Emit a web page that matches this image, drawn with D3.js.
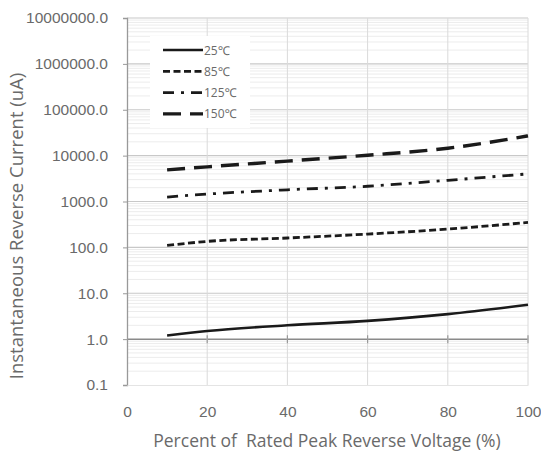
<!DOCTYPE html>
<html>
<head>
<meta charset="utf-8">
<script src="https://cdn.jsdelivr.net/npm/d3@7/dist/d3.min.js"></script>
<style>
  body { margin: 0; background: #fff; }
  svg { font-family: "Open Sans", "Noto Sans", sans-serif; }
</style>
</head>
<body>
<div id="chart"></div>
<script>
// data
const voltagePct = [10, 20, 40, 60, 80, 100];
const i25 = [1.2, 1.5, 2.0, 2.5, 3.5, 5.6];
const i85 = [110, 135, 160, 195, 250, 350];
const i125 = [1250, 1450, 1800, 2150, 2900, 4000];
const i150 = [4900, 5700, 7600, 10200, 14500, 27000];
const seriesNames = ["25\u2103", "85\u2103", "125\u2103", "150\u2103"];
const yTicks = [0.1, 1, 10, 100, 1000, 10000, 100000, 1000000, 10000000];
const xTicks = [0, 20, 40, 60, 80, 100];

const W = 541, H = 457;
const plotL = 127, plotR = 528, plotT = 18, plotB = 385;

const svg = d3.select("#chart").append("svg")
    .attr("width", W)
    .attr("height", H);

const x = d3.scaleLinear().domain([0, 100]).range([plotL, plotR]);
const y = d3.scaleLog().domain([0.1, 10000000]).range([plotB, plotT]);

// minor grid
const minor = [];
yTicks.slice(0, -1).forEach(t => {
    for (let k = 2; k < 10; k++) minor.push(t * k);
});
svg.append("g").selectAll("line")
    .data(minor)
    .enter()
    .append("line")
    .attr("x1", plotL).attr("x2", plotR)
    .attr("y1", d => y(d)).attr("y2", d => y(d))
    .attr("stroke", "#ececec")
    .attr("stroke-width", 1);

// major grid
svg.append("g").selectAll("line")
    .data(yTicks.slice(1))
    .enter()
    .append("line")
    .attr("x1", plotL).attr("x2", plotR)
    .attr("y1", d => y(d)).attr("y2", d => y(d))
    .attr("stroke", d => d === 1 ? "#8a8a8a" : "#c8c8c8")
    .attr("stroke-width", d => d === 1 ? 1.5 : 1.2);

svg.append("g").selectAll("line")
    .data(xTicks.slice(1))
    .enter()
    .append("line")
    .attr("x1", d => x(d)).attr("x2", d => x(d))
    .attr("y1", plotT).attr("y2", plotB)
    .attr("stroke", "#dadada")
    .attr("stroke-width", 1);

// small ticks where the horizontal axis crosses at 1.0
svg.append("g").selectAll("line")
    .data(xTicks.slice(1))
    .enter()
    .append("line")
    .attr("x1", d => x(d)).attr("x2", d => x(d))
    .attr("y1", y(1) - 4).attr("y2", y(1) + 4)
    .attr("stroke", "#999")
    .attr("stroke-width", 1.2);

// axes
const yAxis = svg.append("g")
    .attr("transform", `translate(${plotL},0)`)
    .call(d3.axisLeft(y).tickValues(yTicks).tickFormat(d3.format(".1f")).tickSize(4).tickPadding(15));
yAxis.select(".domain").attr("stroke", "#999").attr("stroke-width", 1.3);
yAxis.selectAll(".tick line").attr("stroke", "#999");
yAxis.selectAll("text").attr("fill", "#6a6a6a").attr("font-size", 15.5);

const xAxis = svg.append("g")
    .attr("transform", `translate(0,${plotB})`)
    .call(d3.axisBottom(x).tickValues(xTicks).tickSize(0).tickPadding(21));
xAxis.select(".domain").attr("stroke", "#e4e4e4");
xAxis.selectAll("text").attr("fill", "#6a6a6a").attr("font-size", 15.5);

// titles
svg.append("text")
    .attr("transform", "translate(23,226) rotate(-90)")
    .attr("text-anchor", "middle")
    .attr("fill", "#6a6a6a")
    .attr("font-size", 18.5)
    .text("Instantaneous Reverse Current (uA)");

svg.append("text")
    .attr("x", 327).attr("y", 447)
    .attr("text-anchor", "middle")
    .attr("fill", "#6a6a6a")
    .attr("font-size", 17.5)
    .text("Percent of  Rated Peak Reverse Voltage (%)")
    .style("white-space", "pre");

// series
const series = [i25, i85, i125, i150];
const dashes = [null, "7,3.5", "11,7,3,7", "18,9"];
const widths = [2.6, 2.8, 2.8, 3.4];

const line = d3.line()
    .x((d, i) => x(voltagePct[i]))
    .y(d => y(d))
    .curve(d3.curveMonotoneX);

series.forEach((s, k) => {
    svg.append("path")
        .datum(s)
        .attr("d", line)
        .attr("fill", "none")
        .attr("stroke", "#1a1a1a")
        .attr("stroke-width", widths[k])
        .attr("stroke-dasharray", dashes[k]);
});

// legend
svg.append("rect")
    .attr("x", 150).attr("y", 36)
    .attr("width", 100).attr("height", 92)
    .attr("fill", "#fff");

const legend = svg.append("g").selectAll("g")
    .data(seriesNames)
    .enter()
    .append("g")
    .attr("transform", (d, i) => `translate(163,${50 + i * 21.3})`);

legend.append("line")
    .attr("x1", 0).attr("x2", 40)
    .attr("stroke", "#1a1a1a")
    .attr("stroke-width", (d, i) => widths[i])
    .attr("stroke-dasharray", (d, i) => dashes[i]);

legend.append("text")
    .attr("x", 41).attr("y", 4.5)
    .attr("fill", "#6a6a6a")
    .attr("font-size", 12)
    .text(d => d);
</script>
</body>
</html>
